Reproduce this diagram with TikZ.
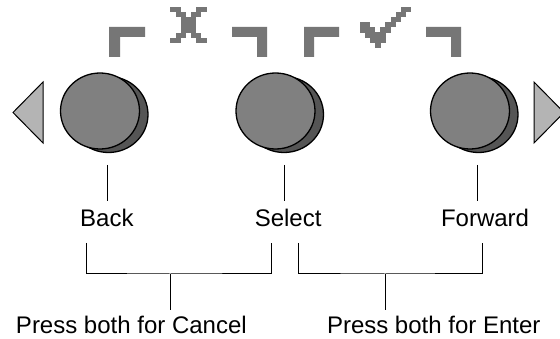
\documentclass[tikz,border=0pt]{standalone}
\usepackage{fontspec}
\setmainfont{Liberation Sans}
\usetikzlibrary{shapes.geometric}
\definecolor{cMark}{HTML}{767676}
\definecolor{cFront}{HTML}{808080}
\definecolor{cShadow}{HTML}{555555}
\definecolor{cTri}{HTML}{B4B4B4}
\begin{document}
\begin{tikzpicture}[x=1pt,y=-1pt,
  frontbtn/.style={ellipse, draw=black, line width=1.3pt, fill=cFront,
    minimum width=79pt, minimum height=76pt, inner sep=0pt, outer sep=0pt},
  shadowbtn/.style={frontbtn, fill=cShadow},
  navtri/.style={draw=black, line width=1pt, fill=cTri, line join=miter},
  conn/.style={draw=black, line width=1pt},
  lbl/.style={font=\fontsize{24}{28}\selectfont, inner sep=0pt, outer sep=0pt, anchor=base west},
  markfill/.style={fill=cMark}
]
\useasboundingbox (0,0) rectangle (560,339);
\clip (0,0) rectangle (560,339);
\fill[white] (0,0) rectangle (560,339);

% navigation triangles
\draw[navtri] (13,112.5) -- (43,82) -- (43,143) -- cycle;
\draw[navtri] (534,82) -- (564,112.5) -- (534,143) -- cycle;

% buttons
\node[shadowbtn] (b1s) at (108.5,114.5) {};
\node[frontbtn]  (b1)  at (100,111) {};
\node[shadowbtn] (b2s) at (284,114.5) {};
\node[frontbtn]  (b2)  at (275.5,111) {};
\node[shadowbtn] (b3s) at (478.5,114.5) {};
\node[frontbtn]  (b3)  at (470,111) {};

% corner brackets
\fill[markfill] (109,57) -- (109,27) -- (145,27) -- (145,37) -- (120,37) -- (120,57) -- cycle;
\fill[markfill] (267,57) -- (267,27) -- (232,27) -- (232,37) -- (257,37) -- (257,57) -- cycle;
\fill[markfill] (304,57) -- (304,27) -- (339,27) -- (339,37) -- (314,37) -- (314,57) -- cycle;
\fill[markfill] (461,57) -- (461,27) -- (426,27) -- (426,37) -- (451,37) -- (451,57) -- cycle;

% pixel X
\foreach \c/\r in {0/0,1/0,5/0,6/0, 1/1,2/1,4/1,5/1, 2/2,3/2,4/2, 2/3,3/3,4/3,
                   2/4,3/4,4/4, 1/5,2/5,4/5,5/5, 0/6,1/6,5/6,6/6}
  \fill[markfill] ({170.5+\c*5.14-0.1},{7+\r*5.14-0.1}) rectangle ++(5.34,5.34);
% pixel check
\foreach \c/\r in {8/0,9/0, 7/1,8/1, 6/2,7/2, 0/3,1/3,5/3,6/3,
                   0/4,1/4,2/4,4/4,5/4, 1/5,2/5,3/5,4/5, 2/6,3/6,4/6, 3/7}
  \fill[markfill] ({360+\c*5.1-0.1},{7+\r*5.1-0.1}) rectangle ++(5.3,5.3);

% button labels
\coordinate (t1a) at (107,165);  \coordinate (t1b) at (107,201);
\coordinate (t2a) at (284,165);  \coordinate (t2b) at (284,201);
\coordinate (t3a) at (477,165);  \coordinate (t3b) at (477,201);
\draw[conn] (t1a) -- (t1b);
\draw[conn] (t2a) -- (t2b);
\draw[conn] (t3a) -- (t3b);
\node[lbl] (back) at (80.2,226.5) {Back};
\node[lbl] (select) at (254.8,226.5) {Select};
\node[lbl] (forward) at (441,226.5) {Forward};

% combination brackets
\coordinate (cl) at (86,243);  \coordinate (cr) at (271,243);
\coordinate (cm) at (170,274); \coordinate (cs) at (170,310);
\draw[conn] (cl) |- (cm) -| (cr);
\draw[conn] (cm) -- (cs);
\coordinate (el) at (298,243);  \coordinate (er) at (482,243);
\coordinate (em) at (385,274); \coordinate (es) at (385,310);
\draw[conn] (el) |- (em) -| (er);
\draw[conn] (em) -- (es);
\node[lbl] (cancel) at (16,333.5) {Press both for Cancel};
\node[lbl] (enter) at (327,333.5) {Press both for Enter};
\end{tikzpicture}
\end{document}
